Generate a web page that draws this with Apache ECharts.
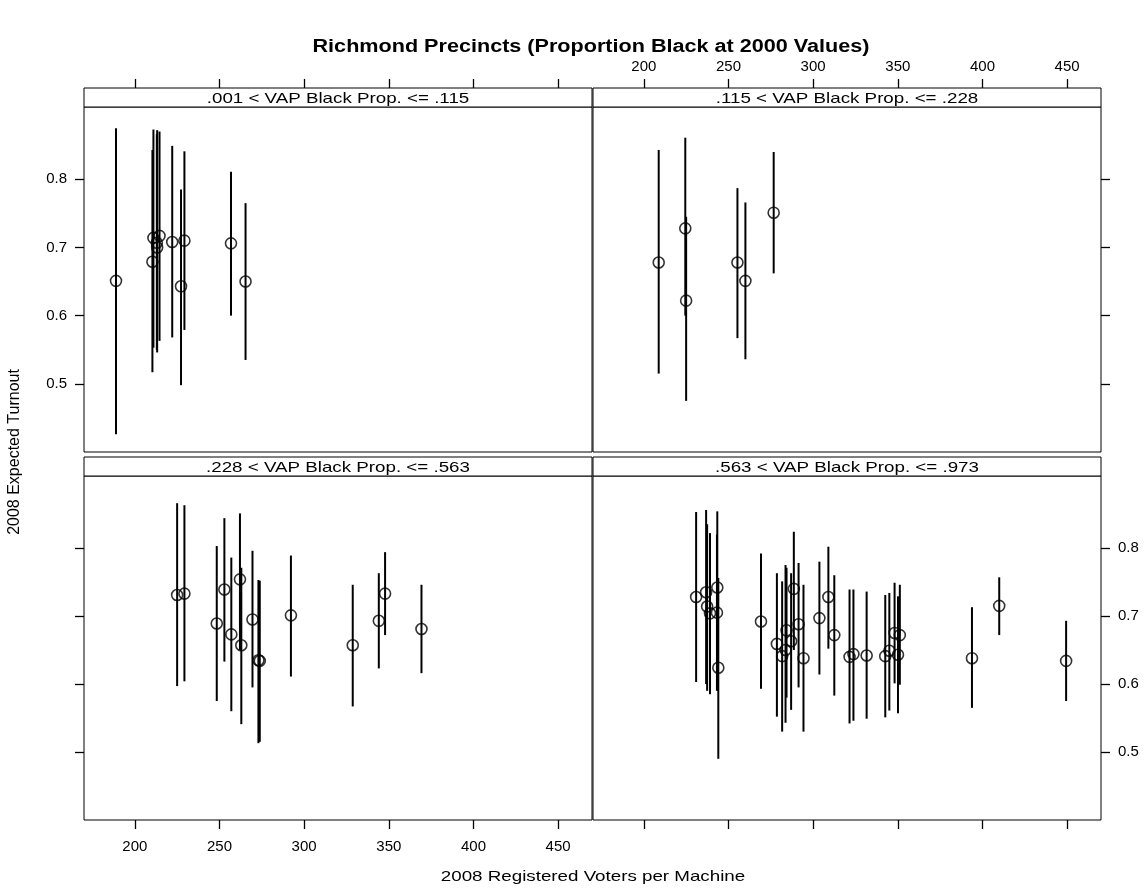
<!DOCTYPE html>
<html>
<head>
<meta charset="utf-8">
<script src="https://cdn.jsdelivr.net/npm/echarts@6/dist/echarts.min.js"></script>
<style>
  html, body { margin: 0; padding: 0; background: #fff; }
  #main { width: 1146px; height: 893px; }
</style>
</head>
<body>
<div id="main"></div>
<script>
// panel headings (lattice strips)
const stripLabels = [
  ".001 < VAP Black Prop. <= .115",
  ".115 < VAP Black Prop. <= .228",
  ".228 < VAP Black Prop. <= .563",
  ".563 < VAP Black Prop. <= .973"
];
const xTicks = [200, 250, 300, 350, 400, 450];
const yTicks = [0.5, 0.6, 0.7, 0.8];

// panel 1: .001 - .115
const voters1 = [188.9, 210.4, 211.0, 213.0, 213.2, 214.6, 222.1, 227.3, 229.3, 256.8, 265.4];
const turnout1 = [0.651, 0.679, 0.714, 0.707, 0.700, 0.717, 0.708, 0.643, 0.710, 0.706, 0.650];
const lower1 = [0.426, 0.517, 0.553, 0.550, 0.546, 0.563, 0.568, 0.498, 0.579, 0.600, 0.535];
const upper1 = [0.875, 0.843, 0.873, 0.866, 0.872, 0.870, 0.849, 0.785, 0.841, 0.811, 0.765];

// panel 2: .115 - .228
const voters2 = [208.8, 224.5, 225.0, 255.3, 260.0, 276.7];
const turnout2 = [0.678, 0.728, 0.622, 0.678, 0.651, 0.751];
const lower2 = [0.515, 0.600, 0.475, 0.567, 0.536, 0.662];
const upper2 = [0.843, 0.861, 0.745, 0.787, 0.766, 0.840];

// panel 3: .228 - .563
const voters3 = [225.0, 229.3, 248.4, 252.9, 257.0, 262.1, 262.9, 269.5, 273.0, 273.8, 292.2, 328.7, 344.1, 347.8, 369.3];
const turnout3 = [0.731, 0.733, 0.689, 0.739, 0.673, 0.754, 0.657, 0.695, 0.635, 0.634, 0.701, 0.657, 0.693, 0.733, 0.681];
const lower3 = [0.597, 0.604, 0.575, 0.633, 0.560, 0.650, 0.541, 0.595, 0.513, 0.515, 0.611, 0.567, 0.623, 0.672, 0.616];
const upper3 = [0.866, 0.863, 0.803, 0.844, 0.786, 0.851, 0.771, 0.796, 0.753, 0.752, 0.789, 0.746, 0.763, 0.794, 0.746];

// panel 4: .563 - .973
const voters4 = [230.9, 236.8, 237.4, 239.1, 243.4, 243.2, 244.0, 269.2, 278.6, 281.7, 283.7, 284.3, 287.0, 288.6, 291.4,
  294.3, 303.7, 309.0, 312.5, 321.5, 323.8, 331.6, 342.6, 345.0, 348.1, 351.2, 350.1, 393.8, 409.9, 449.4];
const turnout4 = [0.728, 0.735, 0.714, 0.704, 0.742, 0.705, 0.624, 0.692, 0.659, 0.641, 0.650, 0.679, 0.663, 0.740, 0.688,
  0.638, 0.697, 0.728, 0.672, 0.640, 0.644, 0.642, 0.641, 0.649, 0.675, 0.672, 0.643, 0.638, 0.715, 0.634];
const lower4 = [0.603, 0.600, 0.590, 0.585, 0.600, 0.590, 0.490, 0.593, 0.552, 0.530, 0.543, 0.580, 0.562, 0.650, 0.595,
  0.530, 0.614, 0.652, 0.583, 0.542, 0.546, 0.549, 0.551, 0.561, 0.601, 0.599, 0.557, 0.565, 0.672, 0.575];
const upper4 = [0.853, 0.856, 0.835, 0.822, 0.854, 0.820, 0.756, 0.792, 0.763, 0.751, 0.775, 0.771, 0.763, 0.824, 0.778,
  0.746, 0.780, 0.802, 0.760, 0.739, 0.739, 0.736, 0.731, 0.734, 0.749, 0.746, 0.729, 0.713, 0.757, 0.693];

const panels = [
  { x: voters1, y: turnout1, lo: lower1, hi: upper1 },
  { x: voters2, y: turnout2, lo: lower2, hi: upper2 },
  { x: voters3, y: turnout3, lo: lower3, hi: upper3 },
  { x: voters4, y: turnout4, lo: lower4, hi: upper4 }
];

const font = "'Liberation Sans', Arial, sans-serif";
const stripH = 19;
// grid boxes: top-left, top-right, bottom-left, bottom-right
const boxes = [
  { left: 84, top: 107, width: 508, height: 345 },
  { left: 593, top: 107, width: 508, height: 345 },
  { left: 84, top: 476, width: 508, height: 344 },
  { left: 593, top: 476, width: 508, height: 344 }
];
// which side of each panel carries labels (lattice alternating)
const xSide = ["top", "top", "bottom", "bottom"];
const xLab = [false, true, true, false];
const ySide = ["left", "right", "left", "right"];
const yLab = [true, false, false, true];

let chart = echarts.init(document.getElementById("main"));

let grids = boxes.map((b) => ({
  left: b.left, top: b.top, width: b.width, height: b.height,
  show: true, borderColor: "#000", borderWidth: 1, backgroundColor: "transparent"
}));

let xAxes = boxes.map((b, i) => ({
  type: "value", gridIndex: i, min: 170, max: 470,
  position: xSide[i], offset: xSide[i] === "top" ? stripH : 0,
  axisLine: { show: false },
  splitLine: { show: false },
  axisTick: { show: true, inside: false, length: 9, lineStyle: { color: "#000", width: 1.3 }, customValues: xTicks },
  axisLabel: {
    show: xLab[i], customValues: xTicks, color: "#000", fontSize: 15, fontFamily: font,
    margin: xSide[i] === "top" ? 14 : 19
  }
}));

let yAxes = boxes.map((b, i) => ({
  type: "value", gridIndex: i, min: 0.4, max: 0.906,
  position: ySide[i],
  axisLine: { show: false },
  splitLine: { show: false },
  axisTick: { show: true, inside: false, length: 9, lineStyle: { color: "#000", width: 1.3 }, customValues: yTicks },
  axisLabel: {
    show: yLab[i], customValues: yTicks, color: "#000", fontSize: 15, fontFamily: font, margin: 17,
    formatter: (v) => v.toFixed(1)
  }
}));

let series = [];
panels.forEach((p, i) => {
  let bars = p.x.map((v, k) => [v, p.lo[k], p.hi[k]]);
  series.push({
    type: "custom",
    xAxisIndex: i, yAxisIndex: i,
    data: bars,
    encode: { x: 0, y: [1, 2] },
    renderItem: (params, api) => {
      let a = api.coord([api.value(0), api.value(1)]);
      let b = api.coord([api.value(0), api.value(2)]);
      return {
        type: "line",
        shape: { x1: a[0], y1: a[1], x2: b[0], y2: b[1] },
        style: { stroke: "#000", lineWidth: 2 }
      };
    },
    silent: true, z: 2
  });
  series.push({
    type: "scatter",
    xAxisIndex: i, yAxisIndex: i,
    data: p.x.map((v, k) => [v, p.y[k]]),
    symbol: "circle",
    symbolSize: 11,
    itemStyle: { color: "transparent", borderColor: "#000", borderWidth: 1.6 },
    silent: true, z: 3
  });
});

// strip boxes and headings
let graphics = [];
boxes.forEach((b, i) => {
  graphics.push({
    type: "rect",
    shape: { x: b.left, y: b.top - stripH, width: b.width, height: stripH },
    style: { fill: "#fff", stroke: "#000", lineWidth: 1 },
    z: 10
  });
  graphics.push({
    type: "text",
    x: b.left + b.width / 2, y: b.top - stripH / 2 + 1, scaleX: 1.25,
    style: { text: stripLabels[i], fill: "#000", font: "15px " + font, align: "center", verticalAlign: "middle" },
    z: 11
  });
});
graphics.push({
  type: "text",
  x: 591, y: 47, scaleX: 1.2,
  style: { text: "Richmond Precincts (Proportion Black at 2000 Values)", fill: "#000", font: "bold 18px " + font, align: "center", verticalAlign: "middle" }
});
graphics.push({
  type: "text",
  x: 15, y: 452, rotation: Math.PI / 2,
  style: { text: "2008 Expected Turnout", fill: "#000", font: "16px " + font, align: "center", verticalAlign: "middle" }
});
graphics.push({
  type: "text",
  x: 593, y: 877, scaleX: 1.25,
  style: { text: "2008 Registered Voters per Machine", fill: "#000", font: "15px " + font, align: "center", verticalAlign: "middle" }
});

let option = {
  backgroundColor: "#fff",
  animation: false,
  grid: grids,
  xAxis: xAxes,
  yAxis: yAxes,
  series: series,
  graphic: graphics
};
chart.setOption(option);
</script>
</body>
</html>
